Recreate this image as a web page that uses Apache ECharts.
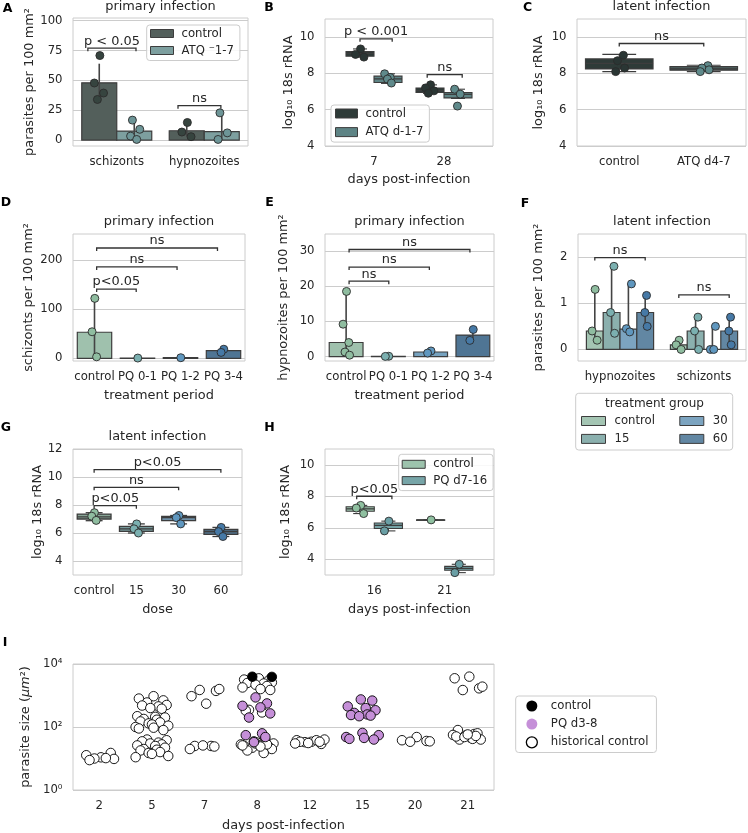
<!DOCTYPE html>
<html lang="en">
<head>
<meta charset="UTF-8">
<title>Figure</title>
<script src="https://cdn.jsdelivr.net/npm/echarts@6/dist/echarts.min.js"></script>
<style>body{margin:0;background:#fff;}</style>
</head>
<body>
<div id="main" style="width:748px;height:833px;"></div>
<script type="text/javascript">

// ---------- data ----------
// A: primary infection, parasites per 100 mm2
const aCats = ['schizonts', 'hypnozoites'];
const aControlMean = [48, 7.8];
const aAtqMean = [7.5, 7];
const aControlCI = [[33, 64], [3, 15]];
const aAtqCI = [[1, 16], [0, 22]];
const aControlPts = [[70.8, 47.8, 39.4, 34], [14.7, 6.7, 2.8]];
const aAtqPts = [[16.7, 9, 3.3, 0.5], [22.8, 6, 0.5]];
const aBrackets = [[-0.33, 0.22, 77], [0.7, 1.19, 28.8]];
const aBracketText = ['p < 0.05', 'ns'];

// B: log10 18s rRNA, [min, q1, median, q3, max]
const bCats = ['7', '28'];
const bControlBox = [[8.9, 8.95, 9.1, 9.2, 9.35], [6.9, 6.95, 7.05, 7.2, 7.37]];
const bAtqBox = [[7.45, 7.5, 7.7, 7.85, 7.98], [6.62, 6.65, 6.85, 6.95, 7.13]];
const bControlPts = [[9.35, 9.05, 8.9], [7.37, 7.2, 7.04, 6.91]];
const bAtqPts = [[7.98, 7.78, 7.69, 7.47], [7.13, 6.86, 6.2]];
const bAtqFliers = [[], [6.2]];
const bBrackets = [[-0.2, 0.26, 9.91], [0.76, 1.26, 7.93]];
const bBracketText = ['p < 0.001', 'ns'];

// C: latent infection
const cCats = ['control', 'ATQ d4-7'];
const cBox = [[8.1, 8.25, 8.55, 8.8, 9.05], [8.1, 8.18, 8.25, 8.38, 8.45]];
const cPts = [[9.0, 8.7, 8.3, 8.1], [8.43, 8.3, 8.2, 8.1]];
const cBrackets = [[0, 1, 9.65]];
const cBracketText = ['ns'];

// D: schizonts per 100 mm2
const dCats = ['control', 'PQ 0-1', 'PQ 1-2', 'PQ 3-4'];
const dMean = [53, 0.5, 1.5, 15.5];
const dCI = [[3, 122], [0, 0.5], [1, 1.5], [12, 19]];
const dPts = [[122, 54, 3], [0.5], [1.2], [18.5, 12]];
const dBrackets = [[0.05, 0.97, 141], [0.05, 1.92, 186], [0.05, 2.86, 224.5]];
const dBracketText = ['p<0.05', 'ns', 'ns'];

// E: hypnozoites per 100 mm2
const eCats = ['control', 'PQ 0-1', 'PQ 1-2', 'PQ 3-4'];
const eMean = [4.0, 0.1, 1.3, 6.1];
const eCI = [[0.4, 18.5], [0, 0.1], [1.0, 1.6], [4.6, 7.7]];
const ePts = [[18.5, 9.2, 4.0, 1.3, 0.4], [0.1, 0.05], [1.6, 1.0], [7.7, 4.6]];
const eBrackets = [[0.07, 1.01, 21.4], [0.07, 1.97, 25.4], [0.07, 2.93, 30.4]];
const eBracketText = ['ns', 'ns', 'ns'];

// F: latent infection, parasites per 100 mm2, [group][category]
const fCats = ['hypnozoites', 'schizonts'];
const fGroups = ['control', '15', '30', '60'];
const fMean = [[0.4, 0.1], [0.8, 0.4], [0.44, 0.0], [0.8, 0.4]];
const fCI = [[[0.2, 1.3], [0, 0.2]], [[0.35, 1.8], [0, 0.7]], [[0.38, 1.42], [0, 0.5]], [[0.5, 1.17], [0.1, 0.7]]];
const fPts = [[[1.3, 0.4, 0.2], [0.2, 0.1, 0.0]], [[1.8, 0.8, 0.35], [0.7, 0.4, 0.0]],
              [[1.42, 0.45, 0.38], [0.5, 0.0, 0.0]], [[1.17, 0.8, 0.5], [0.7, 0.4, 0.1]]];
const fBrackets = [[-0.3, 0.3, 1.99], [0.7, 1.3, 1.18]];
const fBracketText = ['ns', 'ns'];

// G: latent infection by dose
const gCats = ['control', '15', '30', '60'];
const gBox = [[6.88, 7.0, 7.15, 7.35, 7.45], [6.0, 6.12, 6.3, 6.47, 6.65], [6.65, 6.88, 7.1, 7.18, 7.25], [5.75, 5.9, 6.1, 6.25, 6.4]];
const gPts = [[7.45, 7.2, 6.9], [6.65, 6.3, 6.0], [7.25, 7.1, 6.65], [6.4, 6.1, 5.75]];
const gBrackets = [[0, 1, 7.95], [0, 2, 9.26], [0, 3, 10.52]];
const gBracketText = ['p<0.05', 'ns', 'p<0.05'];

// H: days post-infection
const hCats = ['16', '21'];
const hControlBox = [[6.9, 7.05, 7.2, 7.33, 7.42], [6.5, 6.5, 6.5, 6.5, 6.5]];
const hPqBox = [[5.8, 5.95, 6.15, 6.3, 6.42], [3.15, 3.3, 3.42, 3.55, 3.68]];
const hControlPts = [[7.42, 7.25, 6.9], [6.5]];
const hPqPts = [[6.42, 5.8], [3.68, 3.15]];
const hBrackets = [[-0.25, 0.25, 8.0]];
const hBracketText = ['p<0.05'];

// I: parasite size (um2) per day
const iDays = ['2', '5', '7', '8', '12', '15', '20', '21'];
const iHistorical = [
  [10.9, 12.7, 15, 10, 9.7, 8.9, 10.3],
  [950, 800, 700, 600, 500, 480, 450, 400, 380, 220, 210, 200, 180, 170, 150, 140, 130, 120, 110, 100, 95, 90, 80,
   40, 38, 35, 32, 30, 28, 26, 25, 22, 20, 19, 18, 16, 15, 14, 12, 11],
  [550, 950, 1400, 1500, 1600, 25, 25, 26, 24, 20],
  [3500, 3200, 3000, 2800, 2600, 2500, 2400, 2200, 2000, 1800, 1600, 1500, 350, 290, 330,
   40, 35, 32, 30, 28, 27, 25, 24, 22, 20, 18, 15, 30, 28, 26, 24],
  [34, 38, 29, 33, 40, 34, 38, 31, 34, 30],
  [],
  [48, 38, 36, 34, 35],
  [3970, 3520, 1690, 1490, 1910, 80, 60, 55, 63, 56, 45, 40, 40, 42, 50, 52, 48, 58]
];
const iControl = [[], [], [], [3950, 3900], [], [], [], []];
const iPQ = [[], [], [], [870, 560, 470, 420, 270, 200, 63, 55, 48, 33], [],
             [750, 690, 450, 400, 340, 280, 250, 240, 230, 220, 65, 55, 48, 45, 42, 40], [], []];

// ---------- styles ----------
var FONT = 'DejaVu Sans', TXT = '#262626', GRIDC = '#cccccc', EDGE = '#3d3d3d';
var FS = 11.7, FL = 12.9;   // tick / legend size, label / title size
var A_COL = ['#535f5b', '#7d9f9f'], A_PT = ['#36443f', '#6d9597'];
var B_COL = ['#2e3b38', '#5e8485'], B_PT = ['#2a3634', '#5f8a8b'];
var C_COL = ['#2e3b38', '#4a5a58'];
var P4_BAR = ['#9fc1ad', '#86b1ad', '#76a2bf', '#4f7594'];
var P4_PT = ['#8fbda0', '#7bb0b0', '#5f97bf', '#4679a6'];
var G_BOX = ['#86a394', '#76999a', '#6f90a8', '#50708a'];
var F_BAR = ['#a4c5b3', '#8bb0ae', '#7ca4c0', '#6287a3'];
var H_COL = ['#9dc3ad', '#77a5a8'], H_PT = ['#8fc0a0', '#6a9fa5'];
var I_PQ = '#c58fd8';

var JIT = [0.05, -0.4, 0.35, -0.15, 0.45, -0.3, 0.2, -0.05, 0.3, -0.45, 0.1, 0.4, -0.25, 0.15, -0.35, 0.25, -0.1, 0.0, 0.5, -0.5];

var chart = echarts.init(document.getElementById('main'));
var grid = [], xAxis = [], yAxis = [], series = [], legend = [], graphic = [];

function txt(size, extra) {
  var s = {color: TXT, fontFamily: FONT, fontSize: size};
  for (var k in extra) s[k] = extra[k];
  return s;
}

function panel(o) {
  var gi = grid.length;
  var idx = o.cats.map(function (c, i) { return i; });
  grid.push({left: o.box[0], top: o.box[1], width: o.box[2], height: o.box[3],
    show: true, borderColor: GRIDC, borderWidth: 1});
  xAxis.push({
    gridIndex: gi, type: 'value', min: o.xr[0], max: o.xr[1],
    axisLine: {show: false}, splitLine: {show: false},
    axisTick: {show: false, customValues: idx},
    axisLabel: txt(FS, {customValues: idx, margin: 10, formatter: function (v) { return o.cats[Math.round(v)]; }}),
    name: o.xName || '', nameLocation: 'middle', nameGap: o.xGap || 28, nameTextStyle: txt(FL, {})
  });
  yAxis.push({
    gridIndex: gi, type: 'value', min: o.yr[0], max: o.yr[1],
    axisLine: {show: false},
    axisTick: {show: false, customValues: o.ticks},
    axisLabel: txt(FS, {customValues: o.ticks, margin: 10.5, formatter: o.fmt || function (v) { return String(v); }}),
    splitLine: {show: true, lineStyle: {color: GRIDC, width: 1}},
    name: o.yName, nameLocation: 'middle', nameRotate: 90, nameGap: o.yGap,
    nameTextStyle: txt(FL, {rich: o.rich || {}})
  });
  return gi;
}

function dodge(cat, hue, nHue) { return cat + (hue - (nHue - 1) / 2) * 0.8 / nHue; }

function addBars(gi, name, xs, vals, w, colors) {
  var pick = function (i) { return Array.isArray(colors) ? colors[i] : colors; };
  series.push({
    type: 'custom', name: name, xAxisIndex: gi, yAxisIndex: gi, z: 2, silent: true,
    itemStyle: {color: pick(0)},
    data: xs.map(function (x, i) { return [x, vals[i]]; }),
    renderItem: function (params, api) {
      var x = api.value(0);
      var p0 = api.coord([x - w / 2, 0]), p1 = api.coord([x + w / 2, api.value(1)]);
      return {type: 'rect',
        shape: {x: p0[0], y: Math.min(p0[1], p1[1]), width: p1[0] - p0[0], height: Math.abs(p1[1] - p0[1])},
        style: {fill: pick(params.dataIndex), stroke: EDGE, lineWidth: 1.2}};
    }
  });
}

function addErr(gi, xs, ranges) {
  series.push({
    type: 'custom', xAxisIndex: gi, yAxisIndex: gi, z: 3, silent: true,
    data: xs.map(function (x, i) { return [x, ranges[i][0], ranges[i][1]]; }),
    renderItem: function (params, api) {
      var a = api.coord([api.value(0), api.value(1)]), b = api.coord([api.value(0), api.value(2)]);
      return {type: 'line', shape: {x1: a[0], y1: a[1], x2: b[0], y2: b[1]},
        style: {stroke: '#444444', lineWidth: 1.6}};
    }
  });
}

function addBoxes(gi, name, xs, boxes, w, colors, lw) {
  var pick = function (i) { return Array.isArray(colors) ? colors[i] : colors; };
  var edgeW = lw || 1.1;
  series.push({
    type: 'custom', name: name, xAxisIndex: gi, yAxisIndex: gi, z: 2, silent: true,
    itemStyle: {color: pick(0)},
    data: xs.map(function (x, i) { return [x].concat(boxes[i]); }),
    renderItem: function (params, api) {
      var x = api.value(0);
      var P = function (dx, v) { return api.coord([x + dx, v]); };
      var st = {stroke: EDGE, lineWidth: edgeW};
      var lo = P(0, api.value(1)), q1 = P(0, api.value(2)), q3 = P(0, api.value(4)), hi = P(0, api.value(5));
      var bl = P(-w / 2, api.value(4)), br = P(w / 2, api.value(2));
      var ml = P(-w / 2, api.value(3)), mr = P(w / 2, api.value(3));
      var c1 = P(-w / 4, api.value(1)), c2 = P(w / 4, api.value(1));
      var c3 = P(-w / 4, api.value(5)), c4 = P(w / 4, api.value(5));
      return {type: 'group', children: [
        {type: 'line', shape: {x1: lo[0], y1: lo[1], x2: q1[0], y2: q1[1]}, style: st},
        {type: 'line', shape: {x1: q3[0], y1: q3[1], x2: hi[0], y2: hi[1]}, style: st},
        {type: 'line', shape: {x1: c1[0], y1: c1[1], x2: c2[0], y2: c2[1]}, style: st},
        {type: 'line', shape: {x1: c3[0], y1: c3[1], x2: c4[0], y2: c4[1]}, style: st},
        {type: 'rect', shape: {x: bl[0], y: bl[1], width: br[0] - bl[0], height: Math.max(br[1] - bl[1], 0.5)},
          style: {fill: pick(params.dataIndex), stroke: EDGE, lineWidth: edgeW}},
        {type: 'line', shape: {x1: ml[0], y1: ml[1], x2: mr[0], y2: mr[1]}, style: {stroke: EDGE, lineWidth: 1.3}}
      ]};
    }
  });
}

function addPts(gi, name, xs, groups, spread, colors, size, shift, edge) {
  var data = [];
  groups.forEach(function (vals, ci) {
    vals.forEach(function (v, k) {
      data.push({value: [xs[ci] + JIT[(k + (shift || 0)) % JIT.length] * spread, v],
        itemStyle: {color: Array.isArray(colors) ? colors[ci] : colors}});
    });
  });
  series.push({
    type: 'scatter', name: name, xAxisIndex: gi, yAxisIndex: gi, z: 4, silent: true,
    symbolSize: size || 8, data: data,
    itemStyle: {color: Array.isArray(colors) ? colors[0] : colors, borderColor: edge || '#2b2b2b', borderWidth: 0.9, opacity: 1}
  });
}

function addBrackets(gi, spans, texts) {
  series.push({
    type: 'custom', xAxisIndex: gi, yAxisIndex: gi, z: 6, silent: true, data: spans,
    renderItem: function (params, api) {
      var a = api.coord([api.value(0), api.value(2)]), b = api.coord([api.value(1), api.value(2)]);
      var t = 3;
      return {type: 'group', children: [
        {type: 'polyline', shape: {points: [[a[0], a[1] + t], [a[0], a[1]], [b[0], b[1]], [b[0], b[1] + t]]},
          style: {stroke: '#333333', lineWidth: 1.3, fill: null}},
        {type: 'text', x: (a[0] + b[0]) / 2, y: a[1] - 0.5,
          style: {text: texts[params.dataIndex], align: 'center', verticalAlign: 'bottom',
            fill: TXT, fontSize: FL, fontFamily: FONT}}
      ]};
    }
  });
}

function label(text, x, y, bold, size) {
  graphic.push({type: 'text', x: x, y: y, silent: true,
    style: {text: text, align: 'center', verticalAlign: 'middle', fill: bold ? '#000000' : TXT,
      fontSize: size || (bold ? 12.5 : FL), fontFamily: FONT, fontWeight: bold ? 'bold' : 'normal'}});
}

function stripName(n) { return n.split('|')[1]; }

function boxLegend(left, top, items, gap, pad, w, h) {
  legend.push({
    left: left, top: top, orient: 'vertical', padding: pad, itemGap: gap,
    itemWidth: w || 23, itemHeight: h || 8, icon: 'rect', selectedMode: false,
    borderColor: GRIDC, borderWidth: 1, borderRadius: 3, backgroundColor: 'rgba(255,255,255,0.85)',
    formatter: stripName, textStyle: txt(FS, {padding: [0, 0, 0, 3]}),
    data: items
  });
}

// ---------- A ----------
var gA = panel({box: [73, 18, 175, 128], xr: [-0.5, 1.5], cats: aCats, yr: [-5, 102.3],
  ticks: [0, 25, 50, 75, 100], yName: 'parasites per 100 mm²', yGap: 36.8});
var aX0 = aCats.map(function (c, i) { return dodge(i, 0, 2); });
var aX1 = aCats.map(function (c, i) { return dodge(i, 1, 2); });
addBars(gA, 'A|control', aX0, aControlMean, 0.4, A_COL[0]);
addBars(gA, 'A|ATQ ⁻1-7', aX1, aAtqMean, 0.4, A_COL[1]);
addErr(gA, aX0, aControlCI);
addErr(gA, aX1, aAtqCI);
addPts(gA, 'A pts0', aX0, aControlPts, 0.14, A_PT[0], 8, 0);
addPts(gA, 'A pts1', aX1, aAtqPts, 0.14, A_PT[1], 8, 3);
addBrackets(gA, aBrackets, aBracketText);
label('primary infection', 160.5, 7);
label('A', 7.5, 8.5, true);
boxLegend(146.7, 25, [
  {name: 'A|control', itemStyle: {color: A_COL[0], borderColor: EDGE, borderWidth: 1}},
  {name: 'A|ATQ ⁻1-7', itemStyle: {color: A_COL[1], borderColor: EDGE, borderWidth: 1}}
], 5, [2.5, 6, 4, 3.3]);

// ---------- B ----------
var gB = panel({box: [325, 19, 168, 127], xr: [-0.7, 1.7], cats: bCats, yr: [4, 11],
  ticks: [4, 6, 8, 10], yName: 'log₁₀ 18s rRNA', yGap: 30.3, xName: 'days post-infection', xGap: 27});
var bX0 = bCats.map(function (c, i) { return dodge(i, 0, 2); });
var bX1 = bCats.map(function (c, i) { return dodge(i, 1, 2); });
addBoxes(gB, 'B|control', bX0, bControlBox, 0.4, B_COL[0]);
addBoxes(gB, 'B|ATQ d-1-7', bX1, bAtqBox, 0.4, B_COL[1]);
series.push({type: 'scatter', xAxisIndex: gB, yAxisIndex: gB, z: 3, silent: true, symbol: 'diamond', symbolSize: 7,
  itemStyle: {color: '#3d3d3d'},
  data: bAtqFliers.reduce(function (acc, vals, ci) { return acc.concat(vals.map(function (v) { return [bX1[ci], v]; })); }, [])});
addPts(gB, 'B pts0', bX0, bControlPts, 0.16, B_PT[0], 8, 0);
addPts(gB, 'B pts1', bX1, bAtqPts, 0.16, B_PT[1], 8, 5);
addBrackets(gB, bBrackets, bBracketText);
label('B', 269, 8, true);
boxLegend(331, 105, [
  {name: 'B|control', itemStyle: {color: B_COL[0], borderColor: EDGE, borderWidth: 1}},
  {name: 'B|ATQ d-1-7', itemStyle: {color: B_COL[1], borderColor: EDGE, borderWidth: 1}}
], 6.6, [2.5, 6, 4, 4], 22, 9);

// ---------- C ----------
var gC = panel({box: [577, 19, 169, 127], xr: [-0.5, 1.5], cats: cCats, yr: [4, 11],
  ticks: [4, 6, 8, 10], yName: 'log₁₀ 18s rRNA', yGap: 32.3});
addBoxes(gC, 'C box', [0, 1], cBox, 0.8, C_COL);
addPts(gC, 'C pts', [0, 1], cPts, 0.14, B_PT, 8, 2);
addBrackets(gC, cBrackets, cBracketText);
label('latent infection', 661.5, 7);
label('C', 527.5, 7.5, true);

// ---------- D ----------
var gD = panel({box: [73, 234, 172, 127], xr: [-0.5, 3.5], cats: dCats, yr: [-5.5, 253],
  ticks: [0, 100, 200], yName: 'schizonts per 100 mm²', yGap: 37.8, xName: 'treatment period', xGap: 28});
addBars(gD, 'D bars', [0, 1, 2, 3], dMean, 0.8, P4_BAR);
addErr(gD, [0, 1, 2, 3], dCI);
addPts(gD, 'D pts', [0, 1, 2, 3], dPts, 0.14, P4_PT, 8, 0);
addBrackets(gD, dBrackets, dBracketText);
label('primary infection', 159, 222);
label('D', 6, 203, true);

// ---------- E ----------
var gE = panel({box: [325, 234, 169, 127], xr: [-0.5, 3.5], cats: eCats, yr: [-1.25, 34.8],
  ticks: [0, 10, 20, 30], yName: 'hypnozoites per 100 mm²', yGap: 34.8, xName: 'treatment period', xGap: 28});
addBars(gE, 'E bars', [0, 1, 2, 3], eMean, 0.8, P4_BAR);
addErr(gE, [0, 1, 2, 3], eCI);
addPts(gE, 'E pts', [0, 1, 2, 3], ePts, 0.18, P4_PT, 8, 0);
addBrackets(gE, eBrackets, eBracketText);
label('primary infection', 409.5, 222);
label('E', 269.5, 203, true);

// ---------- F ----------
var gF = panel({box: [578, 234, 168, 127], xr: [-0.5, 1.5], cats: fCats, yr: [-0.25, 2.5],
  ticks: [0, 1, 2], yName: 'parasites per 100 mm²', yGap: 33.3});
fGroups.forEach(function (g, h) {
  var xs = fCats.map(function (c, i) { return dodge(i, h, 4); });
  addBars(gF, 'F|' + g, xs, fMean[h], 0.2, F_BAR[h]);
  addErr(gF, xs, fCI[h]);
  addPts(gF, 'F pts' + h, xs, fPts[h], 0.08, P4_PT[h], 8, h * 2);
});
addBrackets(gF, fBrackets, fBracketText);
label('latent infection', 662, 222);
label('F', 525, 204, true);
graphic.push({type: 'rect', silent: true, shape: {x: 575.7, y: 393.3, width: 157, height: 56.7, r: 3},
  style: {fill: '#ffffff', stroke: GRIDC, lineWidth: 1}});
label('treatment group', 654.5, 404, false, 12);
[[581, ['control', '15']], [679.3, ['30', '60']]].forEach(function (col) {
  legend.push({left: col[0], top: 415, orient: 'vertical', padding: 0, itemGap: 5.9,
    itemWidth: 24, itemHeight: 9, icon: 'rect', selectedMode: false, formatter: stripName,
    textStyle: txt(FS, {padding: [0, 0, 0, 4]}),
    data: col[1].map(function (g) {
      return {name: 'F|' + g, itemStyle: {color: F_BAR[fGroups.indexOf(g)], borderColor: EDGE, borderWidth: 1}};
    })});
});

// ---------- G ----------
var gG = panel({box: [73, 449, 169, 126], xr: [-0.5, 3.5], cats: gCats, yr: [3, 12],
  ticks: [4, 6, 8, 10, 12], yName: 'log₁₀ 18s rRNA', yGap: 26.5, xName: 'dose', xGap: 28.5});
addBoxes(gG, 'G box', [0, 1, 2, 3], gBox, 0.8, G_BOX, 1.3);
addPts(gG, 'G pts', [0, 1, 2, 3], gPts, 0.14, P4_PT, 8, 0);
addBrackets(gG, gBrackets, gBracketText);
label('latent infection', 157.5, 437);
label('G', 6, 427.5, true);

// ---------- H ----------
var gH = panel({box: [325, 449, 169, 126], xr: [-0.7, 1.7], cats: hCats, yr: [3, 11],
  ticks: [4, 6, 8, 10], yName: 'log₁₀ 18s rRNA', yGap: 32.8, xName: 'days post-infection', xGap: 28.5});
var hX0 = hCats.map(function (c, i) { return dodge(i, 0, 2); });
var hX1 = hCats.map(function (c, i) { return dodge(i, 1, 2); });
addBoxes(gH, 'H|control', hX0, hControlBox, 0.4, H_COL[0]);
addBoxes(gH, 'H|PQ d7-16', hX1, hPqBox, 0.4, H_COL[1]);
addPts(gH, 'H pts0', hX0, hControlPts, 0.14, H_PT[0], 8, 0);
addPts(gH, 'H pts1', hX1, hPqPts, 0.14, H_PT[1], 8, 0);
addBrackets(gH, hBrackets, hBracketText);
label('H', 269.5, 427.5, true);
boxLegend(398.7, 454.3, [
  {name: 'H|control', itemStyle: {color: H_COL[0], borderColor: EDGE, borderWidth: 1}},
  {name: 'H|PQ d7-16', itemStyle: {color: H_COL[1], borderColor: EDGE, borderWidth: 1}}
], 4.3, [4, 6, 4, 3]);

// ---------- I ----------
var SUP = {0: '⁰', 2: '²', 4: '⁴'};
var gI = panel({box: [73, 664, 421, 126], xr: [-0.5, 7.5], cats: iDays, yr: [0, 4],
  ticks: [0, 2, 4], fmt: function (v) { return '10' + SUP[v]; },
  yName: 'parasite size ({it|μm}²)', yGap: 36.3, rich: {it: txt(FL, {fontStyle: 'italic'})},
  xName: 'days post-infection', xGap: 29});
var iX = iDays.map(function (d, i) { return i; });
var lg = function (groups) { return groups.map(function (g) { return g.map(function (v) { return Math.log10(v); }); }); };
addPts(gI, 'I|historical control', iX, lg(iHistorical), 0.62, '#ffffff', 9.5, 0, '#000000');
addPts(gI, 'I|PQ d3-8', iX, lg(iPQ), 0.62, I_PQ, 9.5, 7, '#000000');
addPts(gI, 'I|control', iX, lg(iControl), 0.62, '#000000', 9.5, 3, '#000000');
label('I', 5, 642.5, true);
legend.push({
  left: 515.7, top: 696, orient: 'vertical', padding: [4, 8, 4, 10], itemGap: 6.1,
  itemWidth: 12, itemHeight: 11, icon: 'circle', selectedMode: false,
  borderColor: GRIDC, borderWidth: 1, borderRadius: 3, backgroundColor: '#ffffff',
  formatter: stripName, textStyle: txt(FS, {padding: [0, 0, 0, 8]}),
  data: [
    {name: 'I|control', itemStyle: {color: '#000000', borderWidth: 0}},
    {name: 'I|PQ d3-8', itemStyle: {color: I_PQ, borderWidth: 0}},
    {name: 'I|historical control', itemStyle: {color: '#ffffff', borderColor: '#000000', borderWidth: 1.3}}
  ]
});

chart.setOption({
  animation: false,
  backgroundColor: '#ffffff',
  textStyle: {fontFamily: FONT},
  grid: grid, xAxis: xAxis, yAxis: yAxis, series: series, legend: legend, graphic: graphic
});

</script>
</body>
</html>
